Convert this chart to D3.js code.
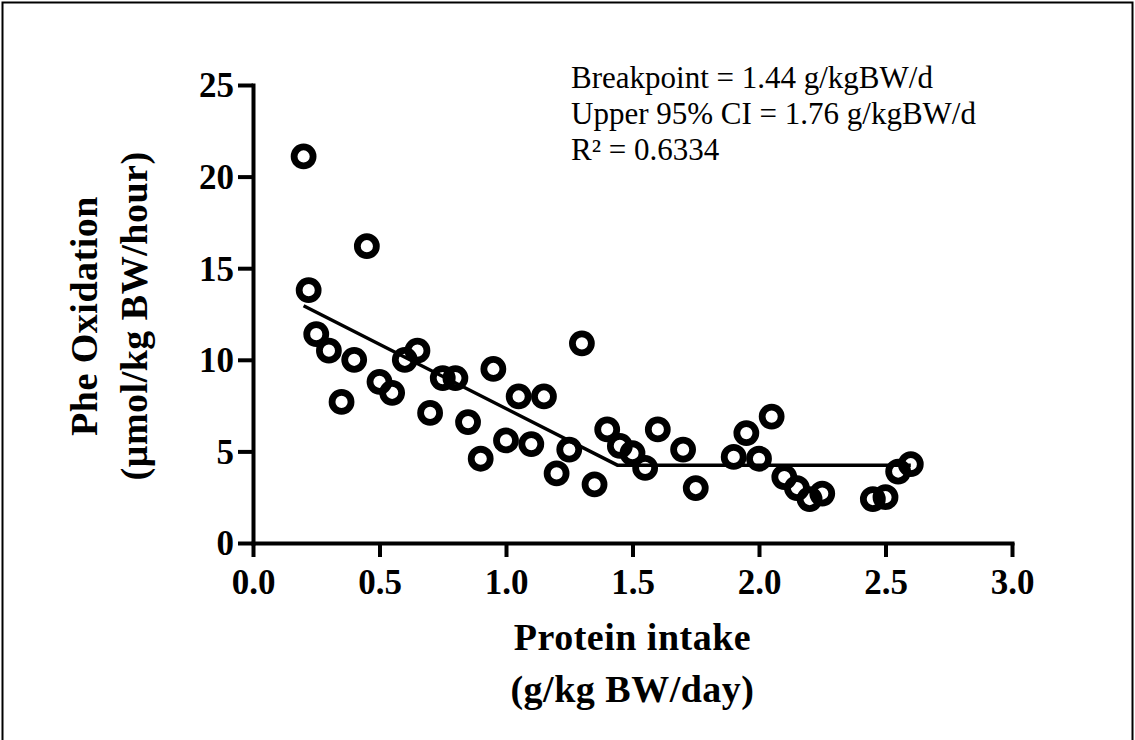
<!DOCTYPE html>
<html>
<head>
<meta charset="utf-8">
<script src="https://cdn.jsdelivr.net/npm/d3@7"></script>
<style>
  html, body { margin: 0; padding: 0; background: #fff; }
  svg { display: block; }
  .tick text { font-family: "Liberation Serif", "Times New Roman", serif; font-weight: bold; font-size: 35px; fill: #000; }
  .axis-title { font-family: "Liberation Serif", "Times New Roman", serif; font-weight: bold; font-size: 38px; fill: #000; letter-spacing: 0.5px; }
  .note { font-family: "Liberation Serif", "Times New Roman", serif; font-size: 31px; fill: #000; }
</style>
</head>
<body>
<div id="chart"></div>
<script>
// protein intake (g/kg BW/day) vs Phe oxidation
const intake = [0.20, 0.22, 0.25, 0.30, 0.35, 0.40, 0.45, 0.50, 0.55, 0.60, 0.65,
                0.70, 0.75, 0.80, 0.85, 0.90, 0.95, 1.00, 1.05, 1.10, 1.15, 1.20,
                1.25, 1.30, 1.35, 1.40, 1.45, 1.50, 1.55, 1.60, 1.70, 1.75, 1.90,
                1.95, 2.00, 2.05, 2.10, 2.15, 2.20, 2.25, 2.45, 2.50, 2.55, 2.60];
const oxidation = [21.1, 13.8, 11.4, 10.5, 7.7, 10.0, 16.2, 8.8, 8.2, 10.0, 10.5,
                   7.1, 9.0, 9.0, 6.6, 4.6, 9.5, 5.6, 8.0, 5.4, 8.0, 3.8,
                   5.1, 10.9, 3.2, 6.2, 5.3, 4.9, 4.1, 6.2, 5.1, 3.0, 4.7,
                   6.0, 4.6, 6.9, 3.6, 3.0, 2.4, 2.7, 2.4, 2.5, 3.9, 4.3];

// two-phase linear regression (breakpoint 1.44)
const fitX = [0.20, 1.44, 2.60];
const fitY = [12.95, 4.25, 4.25];

const xTicks = [0, 0.5, 1.0, 1.5, 2.0, 2.5, 3.0];
const yTicks = [0, 5, 10, 15, 20, 25];

const notes = ['Breakpoint = 1.44 g/kgBW/d', 'Upper 95% CI = 1.76 g/kgBW/d', 'R\u00B2 = 0.6334'];

const width = 1135, height = 740;

const svg = d3.select('#chart').append('svg')
    .attr('width', width).attr('height', height);

// outer frame
svg.append('rect')
    .attr('x', 2.5).attr('y', 2.5)
    .attr('width', width - 5).attr('height', height)
    .attr('fill', 'none').attr('stroke', '#000').attr('stroke-width', 2);

const x = d3.scaleLinear().domain([0, 3]).range([253, 1012]);
const y = d3.scaleLinear().domain([0, 25]).range([543, 85]);

// axes
const xAxis = svg.append('g')
    .attr('transform', `translate(0,${y(0)})`)
    .call(d3.axisBottom(x).tickValues(xTicks).tickFormat(d3.format('.1f'))
        .tickSize(14).tickSizeOuter(0).tickPadding(12));

const yAxis = svg.append('g')
    .attr('transform', `translate(${x(0)},0)`)
    .call(d3.axisLeft(y).tickValues(yTicks).tickFormat(d3.format('d'))
        .tickSize(15).tickSizeOuter(0).tickPadding(4));

[xAxis, yAxis].forEach(g => {
    g.attr('font-family', null).attr('font-size', null);
    g.select('.domain').attr('stroke', '#000').attr('stroke-width', 4).attr('stroke-linecap', 'square');
    g.selectAll('.tick line').attr('stroke', '#000').attr('stroke-width', 4);
});
yAxis.selectAll('.tick text').attr('dy', '0.34em');

// fitted line
const fit = fitX.map((v, i) => [v, fitY[i]]);
svg.append('path').datum(fit)
    .attr('fill', 'none').attr('stroke', '#000').attr('stroke-width', 3.5)
    .attr('stroke-linejoin', 'round')
    .attr('d', d3.line().x(d => x(d[0])).y(d => y(d[1])));

// open circle markers
svg.append('g').selectAll('circle')
    .data(intake.map((v, i) => [v, oxidation[i]]))
    .join('circle')
    .attr('cx', d => x(d[0])).attr('cy', d => y(d[1]))
    .attr('r', 9.5)
    .attr('fill', 'none').attr('stroke', '#000').attr('stroke-width', 6.8);

// axis titles
const yt = svg.append('text').attr('class', 'axis-title')
    .attr('text-anchor', 'middle')
    .attr('transform', `translate(0,${(y(0) + y(25)) / 2 + 2}) rotate(-90)`);
yt.append('tspan').attr('x', 0).attr('y', 97).text('Phe Oxidation');
yt.append('tspan').attr('x', 0).attr('y', 147).text('(µmol/kg BW/hour)');

const xt = svg.append('text').attr('class', 'axis-title').attr('text-anchor', 'middle');
xt.append('tspan').attr('x', (x(0) + x(3)) / 2).attr('y', 650).text('Protein intake');
xt.append('tspan').attr('x', (x(0) + x(3)) / 2).attr('y', 702).text('(g/kg BW/day)');

// regression notes
svg.append('text').attr('class', 'note')
    .selectAll('tspan').data(notes).join('tspan')
    .attr('x', 571).attr('y', (d, i) => 88 + i * 36)
    .text(d => d);
</script>
</body>
</html>
